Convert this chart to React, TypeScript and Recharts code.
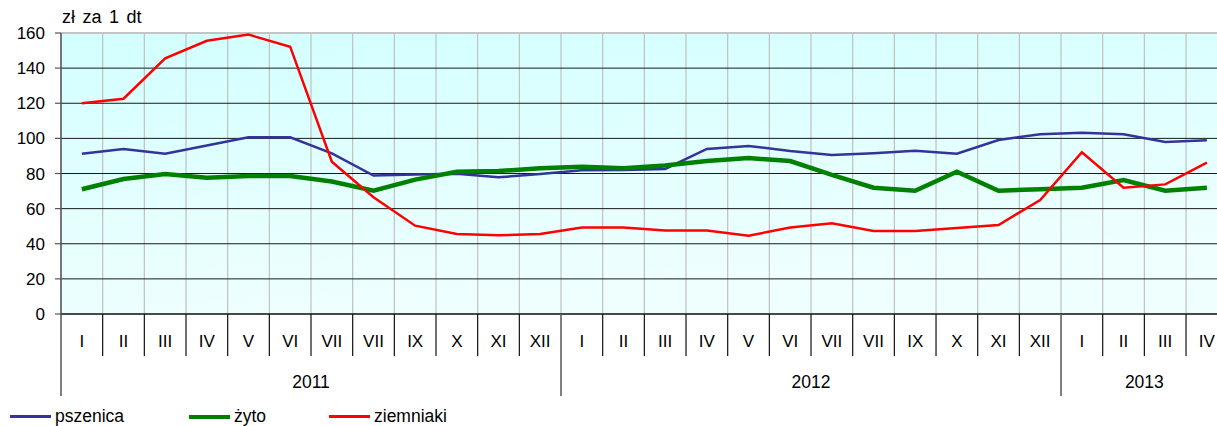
import React from "react";
import {
  CartesianGrid,
  Line,
  LineChart,
  ReferenceLine,
  XAxis,
  YAxis,
} from "recharts";

// Monthly prices, zł per 1 dt. The month labels keep the source's own spelling.
const MONTHS = [
  "I", "II", "III", "IV", "V", "VI", "VII", "VII", "IX", "X", "XI", "XII",
  "I", "II", "III", "IV", "V", "VI", "VII", "VII", "IX", "X", "XI", "XII",
  "I", "II", "III", "IV",
];
const YEARS = ["2011", "2012", "2013"];
const YEAR_MONTHS = [12, 12, 4];

const PSZENICA = [
  91.3, 94.0, 91.3, 96.0, 100.6, 100.6, 91.5, 78.8, 79.5, 79.8, 77.8, 79.7,
  81.8, 82.0, 82.6, 94.0, 95.7, 92.8, 90.5, 91.5, 93.0, 91.3, 99.1, 102.3,
  103.2, 102.3, 97.9, 98.9,
];
const ZYTO = [
  71.0, 76.9, 79.7, 77.6, 78.6, 78.6, 75.4, 70.2, 76.5, 81.0, 81.4, 83.0,
  83.9, 83.0, 84.5, 87.1, 88.8, 87.1, 79.2, 71.9, 70.2, 81.0, 70.2, 71.0,
  71.9, 76.3, 70.2, 71.9,
];
const ZIEMNIAKI = [
  120.0, 122.6, 145.6, 155.6, 159.1, 152.2, 86.7, 66.5, 50.3, 45.6, 44.8, 45.5,
  49.2, 49.2, 47.5, 47.5, 44.6, 49.2, 51.6, 47.3, 47.3, 49.0, 50.7, 64.9,
  92.1, 71.9, 73.8, 86.2,
];
const Y_TICKS = [0, 20, 40, 60, 80, 100, 120, 140, 160];

const SERIES = [
  { key: "pszenica", name: "pszenica", color: "#333399", width: 2.5 },
  { key: "zyto", name: "żyto", color: "#008000", width: 4.5 },
  { key: "ziemniaki", name: "ziemniaki", color: "#ff0000", width: 2.5 },
];

const data = MONTHS.map((month, i) => ({
  month,
  pszenica: PSZENICA[i],
  zyto: ZYTO[i],
  ziemniaki: ZIEMNIAKI[i],
}));

// index of first month of each year, and where its label is centred
const yearStarts: number[] = [];
YEAR_MONTHS.reduce((acc, n) => {
  yearStarts.push(acc);
  return acc + n;
}, 0);
const yearLabelIndex = yearStarts.map((s, i) => s + YEAR_MONTHS[i] / 2 - 1);

const FONT = "Arial, 'Liberation Sans', sans-serif";
const CHART_W = 1240;
const LEFT = 61;
const PLOT_W = 1166.7;
const BAND = PLOT_W / MONTHS.length;

function MonthTick(props: any) {
  const { x, y, index, payload } = props;
  const left = x - BAND / 2;
  const isYearStart = yearStarts.includes(index);
  const yi = yearLabelIndex.indexOf(index);
  return (
    <g>
      <line
        x1={left}
        x2={left}
        y1={y}
        y2={y + (isYearStart ? 82 : 42)}
        stroke={isYearStart ? "#555" : "#111"}
        strokeWidth={isYearStart ? 1.5 : 1.2}
      />
      <text x={x} y={y + 33} textAnchor="middle" fontSize={17} fontFamily={FONT} fill="#000">
        {payload.value}
      </text>
      {yi >= 0 && (
        <text
          x={x + BAND / 2}
          y={y + 74}
          textAnchor="middle"
          fontSize={17.5}
          fontFamily={FONT}
          fill="#000"
        >
          {YEARS[yi]}
        </text>
      )}
    </g>
  );
}

export default function App() {
  return (
    <div
      style={{
        position: "absolute",
        left: 0,
        top: 0,
        width: 1217,
        height: 426,
        overflow: "hidden",
        background: "#fff",
        fontFamily: FONT,
      }}
    >
      <div
        style={{
          position: "absolute",
          left: 62,
          top: 7,
          fontSize: 18,
          wordSpacing: 2.5,
          color: "#000",
        }}
      >
        zł za 1 dt
      </div>
      <LineChart
        width={CHART_W}
        height={426}
        data={data}
        margin={{ top: 33, right: CHART_W - LEFT - PLOT_W, bottom: 30, left: 0 }}
      >
        <defs>
          <linearGradient id="plotBg" x1="0" y1="0" x2="0.3" y2="1">
            <stop offset="0%" stopColor="#d2ffff" />
            <stop offset="100%" stopColor="#effffe" />
          </linearGradient>
        </defs>
        <CartesianGrid
          horizontal={false}
          fill="url(#plotBg)"
          stroke="#c0c0c0"
          strokeWidth={1.2}
          verticalCoordinatesGenerator={({ offset }: any) =>
            MONTHS.map((_, i) => offset.left + (i * offset.width) / MONTHS.length)
          }
        />
        <CartesianGrid vertical={false} stroke="#1a1a1a" strokeWidth={1} />
        <ReferenceLine y={160} stroke="#c4c4c4" strokeWidth={2} />
        <XAxis
          dataKey="month"
          interval={0}
          height={82}
          padding={{ left: BAND / 2, right: BAND / 2 }}
          tickSize={0}
          tickMargin={0}
          tickLine={false}
          axisLine={{ stroke: "#333", strokeWidth: 1.5 }}
          tick={<MonthTick />}
        />
        <YAxis
          width={LEFT}
          domain={[0, 160]}
          ticks={Y_TICKS}
          interval={0}
          tickSize={6}
          tickMargin={10}
          axisLine={{ stroke: "#555", strokeWidth: 1.5 }}
          tickLine={{ stroke: "#555", strokeWidth: 1.2 }}
          tick={{ fontSize: 17, fill: "#000", fontFamily: FONT }}
        />
        {SERIES.map((s) => (
          <Line
            key={s.key}
            type="linear"
            dataKey={s.key}
            name={s.name}
            stroke={s.color}
            strokeWidth={s.width}
            dot={false}
            activeDot={false}
            isAnimationActive={false}
          />
        ))}
      </LineChart>
      {/* legend row along the bottom */}
      {SERIES.map((s, i) => (
        <div
          key={s.key}
          style={{
            position: "absolute",
            left: [10, 189, 329][i],
            top: 406,
            display: "flex",
            alignItems: "center",
            fontSize: 17.5,
            color: "#000",
          }}
        >
          <span
            style={{
              display: "inline-block",
              width: 41,
              height: s.width > 3 ? 4 : 3,
              background: s.color,
              marginRight: 4,
            }}
          />
          {s.name}
        </div>
      ))}
    </div>
  );
}
